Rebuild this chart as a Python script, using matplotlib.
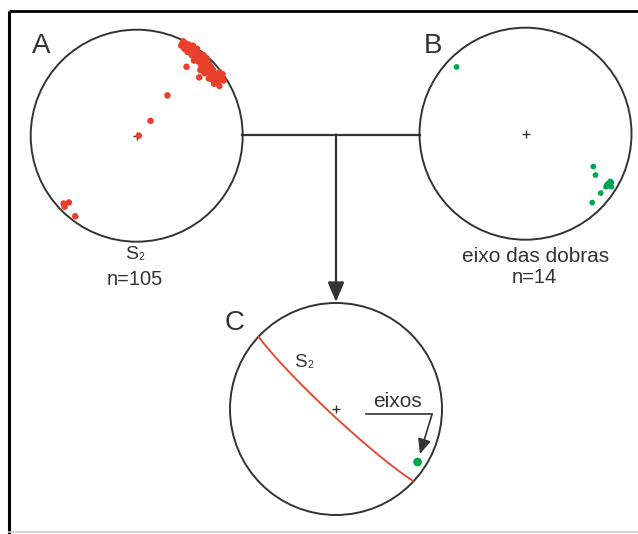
import numpy as np
import matplotlib
matplotlib.use("Agg")
import matplotlib.pyplot as plt
from matplotlib.patches import Circle

plt.rcParams['font.family'] = ['Liberation Sans', 'DejaVu Sans']

# --- Data (positions on the unit net: x = east, y = north) ---
# A: poles of S2 (n=105, many overlap)
s2_pole_x = [0.43, 0.46, 0.47, 0.45, 0.49, 0.51, 0.53, 0.55, 0.48, 0.52,
             0.57, 0.59, 0.56, 0.60, 0.63, 0.62, 0.64, 0.58, 0.66, 0.68,
             0.63, 0.70, 0.67, 0.72, 0.69, 0.74, 0.72, 0.76, 0.71, 0.75,
             0.77, 0.73, 0.78, 0.61, 0.65, 0.54, 0.47, 0.59, 0.64, 0.60,
             0.68, 0.80, 0.82, 0.78, 0.81, 0.74, 0.44, 0.42,
             0.29, 0.13, 0.02,
             -0.69, -0.64, -0.68, -0.58]
s2_pole_y = [0.87, 0.87, 0.84, 0.82, 0.86, 0.81, 0.85, 0.79, 0.79, 0.76,
             0.82, 0.77, 0.74, 0.73, 0.76, 0.71, 0.70, 0.70, 0.73, 0.68,
             0.66, 0.65, 0.62, 0.62, 0.59, 0.58, 0.55, 0.56, 0.53, 0.53,
             0.51, 0.49, 0.60, 0.66, 0.63, 0.71, 0.65, 0.55, 0.59, 0.62,
             0.54, 0.55, 0.52, 0.47, 0.58, 0.53, 0.89, 0.85,
             0.38, 0.14, 0.00,
             -0.64, -0.63, -0.67, -0.76]

# B: fold axes (n=14)
fold_axis_x = [-0.65, 0.64, 0.66, 0.63, 0.71, 0.76, 0.78, 0.81, 0.79, 0.81, 0.77, 0.80]
fold_axis_y = [0.63, -0.31, -0.39, -0.65, -0.56, -0.50, -0.47, -0.46, -0.49, -0.50, -0.48, -0.45]

# C: mean S2 plane (dip direction / dip) and mean fold axis
s2_dip_direction = 223
s2_dip = 85
mean_axis_x = [0.77]
mean_axis_y = [-0.50]

RED = '#e8402a'
GREEN = '#00a651'
INK = '#333333'

W, H = 638, 534


def great_circle(dip_direction, dip, n=200):
    """Equal-area (lower hemisphere) trace of a plane."""
    dd = np.radians(dip_direction)
    dp = np.radians(dip)
    st = dd - np.pi / 2
    s = np.array([np.sin(st), np.cos(st), 0.0])
    d = np.array([np.sin(dd) * np.cos(dp), np.cos(dd) * np.cos(dp), -np.sin(dp)])
    t = np.linspace(0, np.pi, n)
    v = np.outer(np.cos(t), s) + np.outer(np.sin(t), d)
    k = 1.0 / np.sqrt(1.0 - v[:, 2])
    return v[:, 0] * k, v[:, 1] * k


def add_net(fig, cx, cy, r, pad=1.06):
    half = r * pad
    ax = fig.add_axes([(cx - half) / W, (H - cy - half) / H, 2 * half / W, 2 * half / H])
    ax.set_xlim(-pad, pad)
    ax.set_ylim(-pad, pad)
    ax.axis('off')
    ax.patch.set_alpha(0)
    ax.add_patch(Circle((0, 0), 1, fill=False, ec=INK, lw=1.4, zorder=2))
    ax.plot(0, 0, marker='+', ms=6, mew=1.0, color=INK, zorder=3)
    return ax


fig = plt.figure(figsize=(W / 100, H / 100), dpi=100)

# --- overlay in pixel units: frame, connectors, labels ---
ov = fig.add_axes([0, 0, 1, 1])
ov.set_xlim(0, W)
ov.set_ylim(H, 0)
ov.axis('off')

ov.plot([9, 9], [11, H], color='black', lw=2.2, solid_capstyle='butt')
ov.plot([9, W], [11, 11], color='black', lw=2.0, solid_capstyle='butt')
ov.plot([9, W], [532, 532], color='#cccccc', lw=1.2)

ov.plot([242, 420], [134.5, 134.5], color=INK, lw=1.6)
ov.annotate('', xy=(336, 302), xytext=(336, 134.5),
            arrowprops=dict(arrowstyle='-|>,head_length=0.6,head_width=0.25',
                            color=INK, lw=1.6, mutation_scale=20,
                            shrinkA=0, shrinkB=0))

# eixos pointer
ov.plot([366, 432], [414.3, 414.3], color=INK, lw=1.2)
ov.annotate('', xy=(420, 454), xytext=(432, 414.3),
            arrowprops=dict(arrowstyle='-|>,head_length=0.5,head_width=0.22',
                            color=INK, lw=1.2, mutation_scale=18,
                            shrinkA=0, shrinkB=0))

txt = dict(color=INK, ha='center', va='baseline')
ov.text(41, 52.7, 'A', fontsize=20, **txt)
ov.text(433, 53.3, 'B', fontsize=20, **txt)
ov.text(235, 330, 'C', fontsize=20, **txt)

ov.text(131.3, 259, 'S', fontsize=14, **txt)
ov.text(141.7, 260.5, '2', fontsize=7.5, **txt)
ov.text(135, 285, 'n=105', fontsize=14.5, **txt)

ov.text(536, 262, 'eixo das dobras', fontsize=15, **txt)
ov.text(534, 283.3, 'n=14', fontsize=14.5, **txt)

ov.text(300.8, 366.7, 'S', fontsize=13.5, **txt)
ov.text(310, 368.3, '2', fontsize=7.5, **txt)
ov.text(398, 406.7, 'eixos', fontsize=15, **txt)

# --- nets ---
ax_a = add_net(fig, 136.7, 135.7, 106)
ax_a.scatter(s2_pole_x, s2_pole_y, s=22, color=RED, edgecolors='none', zorder=4)

ax_b = add_net(fig, 525.5, 133.7, 106)
ax_b.scatter(fold_axis_x, fold_axis_y, s=17, color=GREEN, edgecolors='none', zorder=4)

ax_c = add_net(fig, 336, 409, 106)
gx, gy = great_circle(s2_dip_direction, s2_dip)
ax_c.plot(gx, gy, color=RED, lw=1.3, zorder=3)
ax_c.scatter(mean_axis_x, mean_axis_y, s=40, color=GREEN, edgecolors='none', zorder=4)

fig.savefig('out.png', dpi=100)
